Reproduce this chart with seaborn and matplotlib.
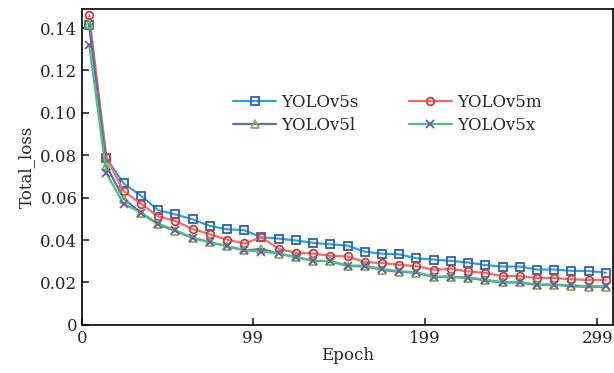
import numpy as np
import pandas as pd
import seaborn as sns
import matplotlib.pyplot as plt

# values, one point every 10 epochs
epochs = np.arange(4, 305, 10)
yolov5s = [0.1415, 0.0786, 0.0667, 0.0610, 0.0541, 0.0521, 0.0498, 0.0467, 0.0451, 0.0447,
           0.0413, 0.0407, 0.0398, 0.0387, 0.0380, 0.0374, 0.0345, 0.0336, 0.0333, 0.0314,
           0.0308, 0.0302, 0.0294, 0.0282, 0.0275, 0.0275, 0.0261, 0.0261, 0.0255, 0.0254, 0.0246]
yolov5m = [0.1460, 0.0790, 0.0630, 0.0572, 0.0512, 0.0490, 0.0452, 0.0428, 0.0402, 0.0384,
           0.0413, 0.0359, 0.0340, 0.0337, 0.0325, 0.0323, 0.0296, 0.0292, 0.0283, 0.0277,
           0.0260, 0.0264, 0.0252, 0.0245, 0.0230, 0.0230, 0.0221, 0.0221, 0.0215, 0.0212, 0.0212]
yolov5l = [0.1420, 0.0750, 0.0596, 0.0528, 0.0474, 0.0443, 0.0410, 0.0390, 0.0371, 0.0351,
           0.0358, 0.0336, 0.0320, 0.0302, 0.0300, 0.0278, 0.0276, 0.0260, 0.0250, 0.0246,
           0.0226, 0.0226, 0.0222, 0.0210, 0.0200, 0.0200, 0.0188, 0.0190, 0.0182, 0.0180, 0.0180]
yolov5x = [0.1320, 0.0715, 0.0570, 0.0530, 0.0478, 0.0446, 0.0412, 0.0389, 0.0372, 0.0352,
           0.0345, 0.0337, 0.0320, 0.0303, 0.0301, 0.0280, 0.0279, 0.0264, 0.0253, 0.0248,
           0.0228, 0.0228, 0.0223, 0.0213, 0.0202, 0.0202, 0.0190, 0.0190, 0.0187, 0.0182, 0.0182]

x_ticks = [0, 99, 199, 299]
y_ticks = [0, 0.02, 0.04, 0.06, 0.08, 0.10, 0.12, 0.14]
y_ticklabels = ['0', '0.02', '0.04', '0.06', '0.08', '0.10', '0.12', '0.14']

df = pd.DataFrame({'Epoch': epochs, 'YOLOv5s': yolov5s, 'YOLOv5m': yolov5m,
                   'YOLOv5l': yolov5l, 'YOLOv5x': yolov5x})

sns.set_style('ticks')
plt.rcParams['font.family'] = ['DejaVu Serif']

fig = plt.figure(figsize=(6.14, 3.73), dpi=100)
ax = fig.add_axes([0.134, 0.129, 0.864, 0.847])

# (line colour, marker, marker colour)
styles = {
    'YOLOv5s': ('#2ba3e3', 's', '#2f5fb5'),
    'YOLOv5m': ('#f26b6b', 'o', '#d23a3a'),
    'YOLOv5l': ('#5b6ea8', '^', '#7cb84a'),
    'YOLOv5x': ('#4cc282', 'x', '#7656a8'),
}

for name, (lc, mk, mc) in styles.items():
    sns.lineplot(data=df, x='Epoch', y=name, ax=ax, label=name, color=lc, lw=1.6,
                 marker=mk, markersize=5.5, markerfacecolor='none', markeredgecolor=mc,
                 markeredgewidth=1.3)

ax.set_xlim(0, 308)
ax.set_ylim(0, 0.149)
ax.set_xticks(x_ticks)
ax.set_yticks(y_ticks)
ax.set_yticklabels(y_ticklabels)
ax.tick_params(direction='in', length=5, width=1.2, labelsize=12, top=False, right=False)
for sp in ax.spines.values():
    sp.set_linewidth(1.2)
    sp.set_color('black')

ax.set_xlabel('Epoch', fontsize=12, labelpad=0)
ax.set_ylabel('Total_loss', fontsize=12, labelpad=4)

# legend fills column-wise, so reorder to get s/m on the first row
handles, labels = ax.get_legend_handles_labels()
order = [0, 2, 1, 3]
ax.legend([handles[i] for i in order], [labels[i] for i in order],
          loc='center', bbox_to_anchor=(0.575, 0.668), ncol=2, frameon=False, fontsize=12,
          handlelength=2.6, columnspacing=3.0, labelspacing=0.4, handletextpad=0.3)

fig.savefig('out.png', dpi=100)
